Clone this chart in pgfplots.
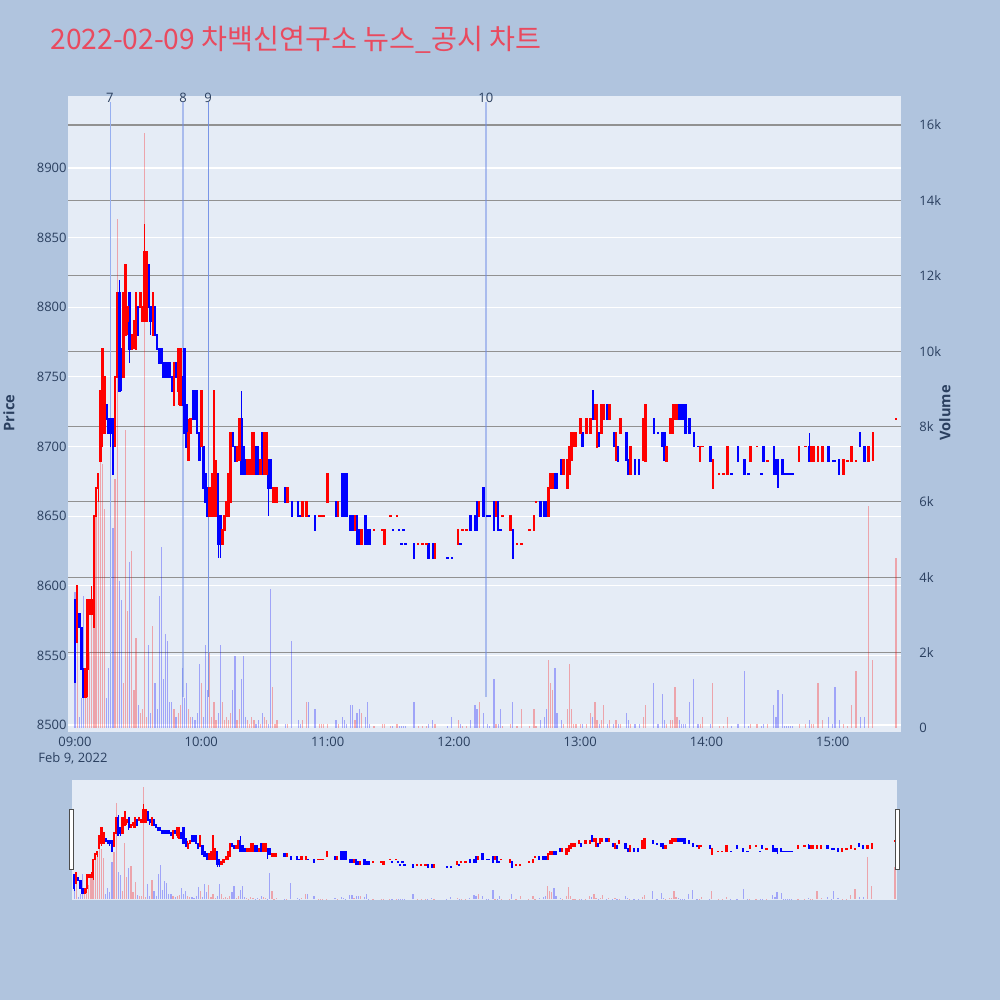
\documentclass[border=0pt]{standalone}
\usepackage{fontspec}
\setmainfont{Open Sans}
\newfontfamily\krfont{Noto Sans CJK KR}
\usepackage{pgfplots}
\usepackage{pgfplotstable}
\pgfplotsset{compat=1.18}
\definecolor{pagebg}{RGB}{176,196,222}
\definecolor{plotbg}{RGB}{229,236,246}
\definecolor{axtext}{RGB}{42,63,95}
\definecolor{gridgray}{RGB}{145,145,145}
\definecolor{newsblue}{RGB}{110,140,230}
\definecolor{newslight}{RGB}{150,175,240}
\definecolor{titlecol}{RGB}{233,74,95}
\definecolor{upc}{RGB}{255,0,0}
\definecolor{dnc}{RGB}{0,0,255}

\pgfplotstableread{
t o h l c v
1 8560 8600 8560 8600 3.8
5 8520 8540 8520 8540 0.8
6 8540 8590 8520 8590 2.5
7 8580 8590 8580 8590 2.0
8 8580 8600 8580 8590 3.4
9 8580 8650 8570 8650 3.9
10 8650 8670 8650 8670 5.6
11 8670 8680 8660 8680 6.4
12 8690 8740 8690 8740 7.1
13 8710 8770 8700 8770 7.0
14 8710 8750 8710 8750 5.8
19 8700 8750 8700 8750 6.6
20 8750 8810 8750 8810 13.5
23 8750 8810 8750 8810 1.2
24 8780 8830 8780 8830 7.9
25 8790 8800 8780 8800 3.1
27 8770 8780 8770 8780 4.7
28 8780 8790 8770 8790 1.0
29 8770 8810 8770 8810 2.4
31 8800 8810 8800 8810 0.4
32 8790 8800 8790 8800 0.5
33 8790 8860 8790 8840 15.8
34 8790 8840 8790 8840 0.3
37 8780 8810 8780 8810 2.7
47 8730 8760 8730 8760 0.5
49 8740 8770 8730 8770 0.4
50 8730 8770 8730 8770 0.6
54 8690 8720 8690 8710 0.5
55 8710 8720 8710 8720 0.3
60 8700 8740 8700 8740 1.2
64 8650 8670 8650 8670 2.0
65 8650 8680 8650 8680 0.3
66 8650 8740 8650 8740 0.7
67 8650 8690 8650 8690 0.2
70 8630 8640 8630 8640 0.7
71 8640 8650 8640 8650 0.2
72 8650 8660 8650 8660 0.3
73 8650 8680 8650 8680 0.2
74 8660 8710 8660 8710 0.4
77 8690 8700 8690 8700 0.2
78 8690 8720 8690 8720 0.5
82 8680 8690 8680 8690 0.2
83 8680 8690 8680 8690 0.1
84 8680 8710 8680 8710 0.3
85 8680 8710 8680 8710 0.2
88 8680 8690 8680 8690 0.1
90 8680 8710 8680 8710 0.3
91 8680 8710 8680 8710 0.2
94 8660 8670 8660 8670 1.1
95 8660 8670 8660 8670 0.1
96 8660 8670 8660 8670 0.2
101 8660 8670 8660 8670 0.1
108 8650 8660 8650 8660 0.2
110 8650 8660 8650 8660 0.7
116 8650 8650 8650 8650 0.1
117 8650 8650 8650 8650 0.1
118 8650 8650 8650 8650 0.1
120 8660 8680 8660 8680 0.1
125 8650 8660 8650 8660 0.1
133 8640 8650 8640 8650 0.2
136 8630 8640 8630 8640 0.4
142 8640 8640 8640 8640 0.05
146 8640 8640 8640 8640 0.1
147 8630 8640 8630 8640 0.1
150 8650 8650 8650 8650 0.05
153 8650 8650 8650 8650 0.1
163 8630 8630 8630 8630 0.05
165 8630 8630 8630 8630 0.05
167 8630 8630 8630 8630 0.05
171 8620 8630 8620 8630 0.1
182 8630 8640 8630 8640 0.2
184 8640 8640 8640 8640 0.05
186 8640 8640 8640 8640 0.05
192 8650 8660 8650 8660 0.7
200 8650 8660 8650 8660 0.1
203 8650 8650 8650 8650 0.05
207 8640 8650 8640 8650 0.1
210 8630 8630 8630 8630 0.05
212 8630 8630 8630 8630 0.5
216 8640 8640 8640 8640 0.05
218 8640 8650 8640 8650 0.5
219 8660 8660 8660 8660 0.05
225 8650 8670 8650 8670 1.8
226 8670 8680 8670 8680 1.2
227 8670 8680 8670 8680 1.0
232 8680 8690 8680 8690 0.1
234 8670 8690 8670 8690 0.5
235 8680 8700 8680 8700 1.7
236 8690 8710 8690 8710 0.5
237 8700 8710 8700 8710 0.1
238 8700 8710 8700 8710 0.1
240 8710 8720 8710 8720 0.1
243 8710 8720 8710 8720 0.1
245 8710 8720 8710 8720 0.4
247 8720 8730 8720 8730 0.7
248 8700 8730 8700 8730 0.2
250 8710 8730 8710 8730 0.2
251 8720 8730 8720 8730 0.6
254 8720 8730 8720 8730 0.2
257 8690 8710 8690 8710 0.2
259 8710 8720 8710 8720 0.1
264 8680 8700 8680 8700 0.1
270 8690 8720 8690 8720 0.3
271 8690 8730 8690 8730 0.6
281 8690 8700 8690 8700 0.1
283 8710 8720 8710 8720 0.2
284 8710 8730 8710 8730 0.2
285 8720 8730 8720 8730 1.1
286 8720 8730 8720 8730 0.3
297 8690 8700 8690 8700 0.1
298 8700 8700 8700 8700 0.3
303 8670 8690 8670 8690 1.2
306 8680 8680 8680 8680 0.05
308 8680 8680 8680 8680 0.05
310 8680 8700 8680 8700 0.3
321 8690 8700 8690 8700 0.1
324 8700 8700 8700 8700 0.1
329 8690 8690 8690 8690 0.1
344 8690 8700 8690 8700 0.1
347 8700 8700 8700 8700 0.1
350 8690 8700 8690 8700 0.1
351 8690 8700 8690 8700 0.1
353 8690 8700 8690 8700 1.2
355 8690 8700 8690 8700 0.2
365 8680 8690 8680 8690 0.1
367 8690 8690 8690 8690 0.05
369 8690 8700 8690 8700 0.6
371 8690 8690 8690 8690 1.5
377 8690 8700 8690 8700 5.9
379 8690 8710 8690 8710 1.8
390 8720 8720 8720 8720 4.5
}\updata

\pgfplotstableread{
t o h l c v
0 8590 8590 8530 8540 3.6
2 8580 8580 8570 8570 0.3
3 8570 8570 8540 8540 0.8
4 8540 8540 8520 8520 3.5
15 8730 8730 8720 8720 0.8
16 8720 8720 8710 8710 1.6
17 8720 8720 8700 8710 1.0
18 8720 8720 8680 8680 5.3
21 8810 8820 8740 8740 3.9
22 8770 8770 8740 8750 3.4
26 8810 8810 8760 8770 4.4
30 8800 8800 8780 8780 0.6
35 8830 8830 8800 8800 2.2
36 8800 8800 8780 8790 0.4
38 8800 8800 8780 8780 1.2
39 8780 8780 8770 8770 0.5
40 8770 8770 8760 8760 3.5
41 8770 8770 8760 8760 4.8
42 8760 8760 8750 8750 1.3
43 8760 8760 8750 8750 2.5
44 8760 8760 8750 8750 2.3
45 8760 8760 8750 8750 0.7
46 8750 8750 8740 8740 0.7
48 8760 8760 8750 8750 0.3
51 8750 8750 8730 8730 1.6
52 8770 8770 8710 8710 0.8
53 8730 8730 8700 8700 1.2
56 8740 8740 8720 8720 0.3
57 8740 8740 8720 8720 0.2
58 8740 8740 8710 8710 0.4
59 8710 8710 8690 8690 1.7
61 8700 8700 8670 8670 0.3
62 8680 8680 8660 8660 2.2
63 8670 8670 8650 8650 1.0
68 8680 8680 8620 8630 0.4
69 8650 8650 8620 8630 2.2
75 8710 8710 8700 8700 1.0
76 8700 8700 8690 8690 1.9
79 8720 8740 8680 8680 1.3
80 8700 8700 8680 8680 1.9
81 8690 8690 8680 8680 0.3
86 8700 8700 8680 8680 0.1
87 8700 8700 8680 8680 0.2
89 8710 8710 8680 8680 0.4
92 8690 8690 8650 8670 0.1
93 8690 8690 8670 8670 3.7
100 8670 8670 8660 8660 0.1
103 8660 8660 8650 8650 2.3
106 8660 8660 8650 8650 0.2
107 8650 8650 8650 8650 0.1
111 8650 8650 8650 8650 0.7
114 8650 8650 8640 8640 0.5
124 8660 8660 8650 8650 0.2
127 8680 8680 8650 8650 0.3
128 8680 8680 8650 8650 0.2
129 8680 8680 8650 8650 0.1
131 8650 8650 8640 8640 0.6
132 8650 8650 8640 8640 0.6
134 8650 8650 8630 8630 0.4
135 8640 8640 8630 8630 0.5
138 8650 8650 8630 8630 0.3
139 8640 8640 8630 8630 0.7
140 8640 8640 8630 8630 0.1
151 8640 8640 8640 8640 0.05
154 8640 8640 8640 8640 0.05
155 8630 8630 8630 8630 0.05
156 8640 8640 8640 8640 0.05
157 8630 8630 8630 8630 0.05
161 8630 8630 8620 8620 0.7
168 8630 8630 8620 8620 0.1
170 8630 8630 8620 8620 0.2
177 8620 8620 8620 8620 0.05
179 8620 8620 8620 8620 0.3
183 8630 8630 8630 8630 0.1
188 8650 8650 8640 8640 0.2
190 8650 8650 8640 8640 0.6
191 8660 8660 8640 8640 0.5
194 8670 8670 8650 8650 0.4
196 8650 8650 8650 8650 0.1
197 8650 8650 8650 8650 0.05
199 8660 8660 8640 8640 1.3
201 8660 8660 8640 8640 0.1
202 8640 8640 8640 8640 0.5
208 8640 8640 8620 8620 0.7
221 8660 8660 8650 8650 0.2
223 8660 8660 8650 8650 0.3
224 8660 8660 8650 8650 0.5
228 8680 8680 8670 8670 1.6
229 8680 8680 8670 8670 0.4
231 8690 8690 8680 8680 0.2
241 8710 8710 8700 8700 0.1
246 8740 8740 8720 8720 0.3
249 8710 8710 8700 8700 0.1
253 8730 8730 8720 8720 0.1
256 8710 8710 8700 8700 0.1
258 8700 8700 8690 8690 0.1
262 8710 8710 8690 8690 0.4
263 8690 8690 8680 8680 0.2
266 8690 8690 8680 8680 0.1
268 8690 8690 8680 8680 0.1
275 8720 8720 8710 8710 1.2
277 8710 8710 8710 8710 0.1
279 8710 8710 8700 8700 0.9
280 8710 8710 8690 8690 0.2
287 8730 8730 8720 8720 0.2
288 8730 8730 8720 8720 0.1
289 8730 8730 8720 8720 0.1
290 8730 8730 8710 8710 0.1
292 8720 8720 8710 8710 0.7
294 8710 8710 8700 8700 1.3
296 8700 8700 8700 8700 0.1
302 8700 8700 8690 8690 0.1
312 8680 8680 8680 8680 0.05
315 8700 8700 8690 8690 0.1
318 8690 8690 8680 8680 1.5
320 8680 8680 8680 8680 0.05
326 8680 8680 8680 8680 0.05
327 8700 8700 8690 8690 0.1
332 8700 8700 8680 8680 0.6
333 8690 8690 8680 8680 0.3
334 8690 8690 8670 8680 1.0
336 8690 8690 8680 8680 0.9
337 8680 8680 8680 8680 0.05
338 8680 8680 8680 8680 0.05
339 8680 8680 8680 8680 0.05
340 8680 8680 8680 8680 0.05
341 8680 8680 8680 8680 0.05
349 8700 8710 8690 8690 0.2
358 8700 8700 8690 8690 0.3
360 8690 8690 8690 8690 0.1
361 8690 8690 8690 8690 1.1
363 8690 8690 8680 8680 0.2
373 8710 8710 8700 8700 0.3
375 8700 8700 8690 8690 0.3
}\dndata

\pgfplotsset{
  mainbox/.style={scale only axis, at={(34pt,134pt)}, anchor=south west,
    width=416.5pt, height=318pt, xmin=-3.33, xmax=392.4,
    axis line style={draw=none}, major tick length=0pt, tick style={draw=none}},
  slidebox/.style={scale only axis, at={(36pt,50pt)}, anchor=south west,
    width=412.5pt, height=60pt, xmin=-1, xmax=391,
    axis line style={draw=none}, major tick length=0pt, tick style={draw=none},
    xtick=\empty, ytick=\empty},
  pricey/.style={ymin=8494.97, ymax=8951.7},
  voly/.style={ymin=-0.106, ymax=16.77},
  wick/.style 2 args={draw=none, mark=none, forget plot,
    error bars/.cd, y dir=both, y explicit, error mark=none,
    error bar style={draw=#1, line width=#2}},
}

\newcommand{\candles}[5]{%
  \addplot[wick={#2}{#3}] table[x=t, y expr={(\thisrow{h}+\thisrow{l})/2}, y error expr={(\thisrow{h}-\thisrow{l})/2}] {#1};
  \addplot[wick={#2}{#4}] table[x=t, y expr={(\thisrow{o}+\thisrow{c})/2}, y error expr={abs(\thisrow{o}-\thisrow{c})/2+#5}] {#1};
}

\begin{document}
\begin{tikzpicture}
\fill[pagebg] (0,0) rectangle (500pt,500pt);

% main: background, price grid and labels
\begin{axis}[mainbox, pricey,
  axis background/.style={fill=plotbg},
  ytick={8500,8550,...,8900}, ymajorgrids, grid style={white, line width=0.6pt},
  xtick={0,60,120,180,240,300,360},
  xticklabels={09:00,10:00,11:00,12:00,13:00,14:00,15:00},
  ticklabel style={font=\fontsize{6.5}{7}\selectfont, text=axtext},
  yticklabel style={anchor=east, inner sep=0pt, xshift=-0.5pt, /pgf/number format/1000 sep={}},
  xticklabel style={anchor=north, inner sep=0pt, yshift=-2.4pt},
  /pgf/number format/assume math mode=true]
\end{axis}

% main: volume (and news lines)
\begin{axis}[mainbox, voly, xtick=\empty,
  ytick={0,2,4,6,8,10,12,14,16},
  yticklabels={0,2k,4k,6k,8k,10k,12k,14k,16k},
  yticklabel pos=right,
  extra y ticks={2,4,6,8,10,12,14,16}, extra y tick labels={},
  extra y tick style={grid=major, major grid style={gridgray, line width=0.55pt}},
  ticklabel style={font=\fontsize{6.5}{7}\selectfont, text=axtext},
  yticklabel style={anchor=west, inner sep=0pt, xshift=9pt},
  /pgf/number format/assume math mode=true]
\addplot[ycomb, draw=upc, draw opacity=0.3, line width=0.6pt, forget plot] table[x=t, y=v] {\updata};
\addplot[ycomb, draw=dnc, draw opacity=0.3, line width=0.6pt, forget plot] table[x=t, y=v] {\dndata};
\addplot[newslight, line width=0.5pt, forget plot] coordinates {(16.85,0.82) (16.85,16.6)};
\addplot[newsblue, draw opacity=0.5, line width=1.2pt, forget plot] coordinates {(51.3,0.82) (51.3,16.6)};
\addplot[newsblue, draw opacity=0.9, line width=0.5pt, forget plot] coordinates {(63.2,0.82) (63.2,16.6)};
\addplot[newsblue, draw opacity=0.5, line width=1.2pt, forget plot] coordinates {(195.2,0.82) (195.2,16.6)};
\end{axis}

% main: candles and news labels
\begin{axis}[mainbox, pricey, xtick=\empty, ytick=\empty, clip mode=individual]
\candles{\dndata}{dnc}{0.6pt}{1.3pt}{0.7}
\candles{\updata}{upc}{0.6pt}{1.3pt}{0.7}
\begin{scope}[every node/.style={font=\fontsize{6.5}{7}\selectfont, text=axtext, inner sep=0pt}]
\node at (axis cs:16.6,8950) {7};
\node at (axis cs:51.3,8950) {8};
\node at (axis cs:63.2,8950) {9};
\node at (axis cs:195.2,8950) {10};
\end{scope}
\end{axis}

% range slider
\begin{axis}[slidebox, voly, axis background/.style={fill=plotbg}]
\addplot[ycomb, draw=upc, draw opacity=0.3, line width=0.6pt, forget plot] table[x=t, y=v] {\updata};
\addplot[ycomb, draw=dnc, draw opacity=0.3, line width=0.6pt, forget plot] table[x=t, y=v] {\dndata};
\end{axis}
\begin{axis}[slidebox, pricey]
\candles{\dndata}{dnc}{0.4pt}{1.1pt}{2.5}
\candles{\updata}{upc}{0.4pt}{1.1pt}{2.5}
\end{axis}
\draw[fill=white, draw=gray!60!black, line width=0.5pt] (34.5pt,65pt) rectangle (36.5pt,95pt);
\draw[fill=white, draw=gray!60!black, line width=0.5pt] (447.5pt,65pt) rectangle (449.5pt,95pt);

% texts
\node[anchor=base west, inner sep=0pt, text=titlecol, font=\krfont\fontsize{14.1}{17}\selectfont] at (25pt,475pt) {2022-02-09 차백신연구소 뉴스\_공시 차트};
\node[inner sep=0pt, text=axtext, font=\fontsize{6.5}{7}\selectfont] at (36.5pt,121pt) {Feb 9, 2022};
\node[rotate=90, inner sep=0pt, text=axtext, font=\bfseries\fontsize{7.3}{8}\selectfont] at (4.5pt,293.5pt) {Price};
\node[rotate=90, inner sep=0pt, text=axtext, font=\bfseries\fontsize{7.3}{8}\selectfont] at (472.5pt,293.5pt) {Volume};
\end{tikzpicture}
\end{document}
